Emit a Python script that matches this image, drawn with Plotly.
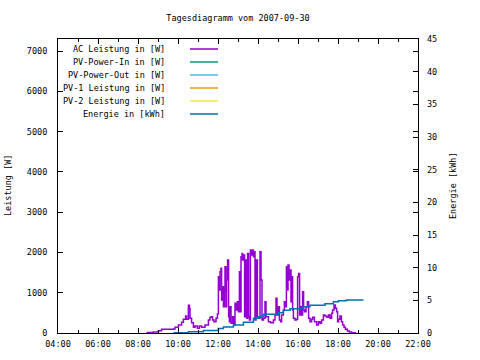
import pandas as pd
import plotly.graph_objects as go

title_text = "Tagesdiagramm vom 2007-09-30"
series_names = ["AC Leistung in [W]", "PV-Power-In in [W]", "PV-Power-Out in [W]",
                "PV-1 Leistung in [W]", "PV-2 Leistung in [W]", "Energie in [kWh]"]
series_colors = ["#9400D3", "#009E73", "#56B4E9", "#E69F00", "#F0E442", "#0072B2"]

# AC power (hours of day, watts)
ac_hours = [8.43, 8.77, 9.02, 9.18, 9.77, 9.85, 10.02, 10.18, 10.27, 10.38, 10.43, 10.52, 10.57,
            10.6, 10.68, 10.77, 10.85, 10.97, 11.07, 11.18, 11.35, 11.52, 11.6, 11.68, 11.73,
            11.8, 11.9, 11.97, 12.02, 12.07, 12.1, 12.15, 12.18, 12.23, 12.27, 12.32, 12.35,
            12.4, 12.43, 12.48, 12.53, 12.57, 12.6, 12.65, 12.73, 12.8, 12.85, 12.9, 12.97,
            13.02, 13.07, 13.1, 13.15, 13.2, 13.23, 13.28, 13.33, 13.38, 13.43, 13.48, 13.53,
            13.57, 13.62, 13.67, 13.72, 13.77, 13.82, 13.85, 13.9, 13.97, 14.05, 14.1, 14.15,
            14.2, 14.27, 14.35, 14.4, 14.52, 14.63, 14.77, 14.85, 14.9, 14.95, 15.02, 15.07,
            15.13, 15.18, 15.27, 15.32, 15.37, 15.42, 15.47, 15.5, 15.55, 15.6, 15.65, 15.68,
            15.73, 15.77, 15.85, 15.93, 15.98, 16.03, 16.08, 16.13, 16.18, 16.23, 16.28, 16.33,
            16.4, 16.47, 16.53, 16.6, 16.68, 16.73, 16.82, 16.93, 17.02, 17.1, 17.18, 17.27,
            17.35, 17.43, 17.52, 17.6, 17.68, 17.73, 17.8, 17.87, 17.93, 17.98, 18.03, 18.1,
            18.17, 18.23, 18.3, 18.37, 18.47, 18.57, 18.68, 18.9]
ac_watts = [10, 25, 57, 91, 100, 140, 199, 265, 340, 420, 340, 687, 612,
            365, 256, 140, 174, 116, 174, 140, 199, 322, 390, 405, 322,
            281, 364, 471, 1397, 1067, 1521, 1605, 819, 1149, 653, 1067, 1646,
            653, 1315, 1811, 405, 281, 653, 240, 405, 199, 736, 570, 777,
            529, 1521, 529, 1894, 1977, 1811, 1935, 405, 1811, 364, 1977, 405,
            322, 2060, 1935, 2060, 1894, 2018, 322, 1811, 405, 364, 2018, 1315,
            322, 364, 777, 405, 281, 256, 322, 447, 860, 447, 653, 322,
            281, 447, 570, 777, 653, 1646, 1067, 1687, 1315, 1563, 777, 1397,
            570, 364, 322, 340, 1397, 1480, 447, 653, 447, 1025, 570, 529,
            653, 777, 364, 281, 340, 390, 281, 199, 281, 240, 322, 447,
            420, 390, 447, 364, 488, 570, 695, 612, 529, 281, 340, 420,
            281, 199, 140, 91, 50, 25, 8, 8]

# Energy (hours of day, kWh)
en_hours = [9.77, 10.52, 11.27, 12.02, 12.27, 12.77, 13.27, 13.77, 14.02, 14.27, 15.02, 15.27,
            15.6, 16.27, 16.6, 17.35, 17.77, 18.02, 18.43, 19.27]
en_kwh = [0.05, 0.2, 0.4, 0.7, 0.92, 1.22, 1.63, 2.24, 2.5, 2.86, 3.11, 3.47,
          3.72, 4.03, 4.23, 4.49, 4.8, 4.95, 5.05, 5.05]

x_tick_labels = ["04:00", "06:00", "08:00", "10:00", "12:00", "14:00", "16:00", "18:00", "20:00", "22:00"]

day = pd.Timestamp("2007-09-30")
def to_time(hours):
    return [day + pd.to_timedelta(h, unit="h") for h in hours]

FONT = "DejaVu Sans Mono"
fig = go.Figure()
fig.add_trace(go.Scatter(x=to_time(ac_hours), y=ac_watts, mode="lines", line_shape="hv",
                         line=dict(color=series_colors[0], width=1.5), showlegend=False,
                         hoverinfo="skip"))
fig.add_trace(go.Scatter(x=to_time(en_hours), y=en_kwh, mode="lines", line_shape="hv", yaxis="y2",
                         line=dict(color=series_colors[5], width=1.5), showlegend=False,
                         hoverinfo="skip"))

L, R, T, B = 58, 418, 39, 333
def px(x):
    return (x - L) / (R - L)
def py(y):
    return (B - y) / (B - T)

shapes = []
annotations = []
row_y = [49, 62, 75, 88, 101, 114]
for name, col, yy in zip(series_names, series_colors, row_y):
    annotations.append(dict(x=px(167), y=py(yy), xref="paper", yref="paper", text=name,
                            showarrow=False, xanchor="right", yanchor="middle",
                            font=dict(family=FONT, size=8.5, color="black")))
    shapes.append(dict(type="line", xref="paper", yref="paper", x0=px(190), x1=px(218),
                       y0=py(yy), y1=py(yy), line=dict(color=col, width=1.5)))

annotations.append(dict(x=px(8), y=0.5, xref="paper", yref="paper", text="Leistung [W]",
                        textangle=-90, showarrow=False, xanchor="center", yanchor="middle",
                        font=dict(family=FONT, size=8.5, color="black")))
annotations.append(dict(x=px(453), y=0.5, xref="paper", yref="paper", text="Energie [kWh]",
                        textangle=-90, showarrow=False, xanchor="center", yanchor="middle",
                        font=dict(family=FONT, size=8.5, color="black")))

tickvals = to_time([4, 6, 8, 10, 12, 14, 16, 18, 20, 22])
fig.update_layout(
    width=480, height=360,
    margin=dict(l=L, r=480 - R, t=T, b=360 - B, pad=0),
    paper_bgcolor="white", plot_bgcolor="white",
    font=dict(family=FONT, size=8.5, color="black"),
    title=dict(text=title_text, x=0.5, xref="paper", y=1 - 18 / 360, yref="container",
               xanchor="center", yanchor="middle", font=dict(family=FONT, size=8.5)),
    xaxis=dict(range=[day + pd.Timedelta(hours=4), day + pd.Timedelta(hours=22)],
               tickvals=tickvals, ticktext=x_tick_labels, ticks="inside", ticklen=5,
               tickcolor="black", showline=True, linecolor="black", linewidth=1,
               mirror="ticks", showgrid=False, zeroline=False,
               minor=dict(ticks="inside", dtick=3600000, ticklen=3, tickcolor="black",
                          tick0=day + pd.Timedelta(hours=4)),
               ticklabelstandoff=3),
    yaxis=dict(range=[0, 7300], tickvals=[0, 1000, 2000, 3000, 4000, 5000, 6000, 7000],
               ticks="inside", ticklen=5, tickcolor="black", showline=True,
               linecolor="black", linewidth=1, mirror="ticks", showgrid=False,
               zeroline=False, ticklabelstandoff=8),
    yaxis2=dict(range=[0, 45], tickvals=[0, 5, 10, 15, 20, 25, 30, 35, 40, 45],
                overlaying="y", side="right", ticks="inside", ticklen=5, tickcolor="black",
                showline=False, showgrid=False, zeroline=False, ticklabelstandoff=8),
    shapes=shapes, annotations=annotations, showlegend=False,
)
fig.write_html("out.html", config={"displayModeBar": False},
               post_script="document.body.style.margin='0';")
